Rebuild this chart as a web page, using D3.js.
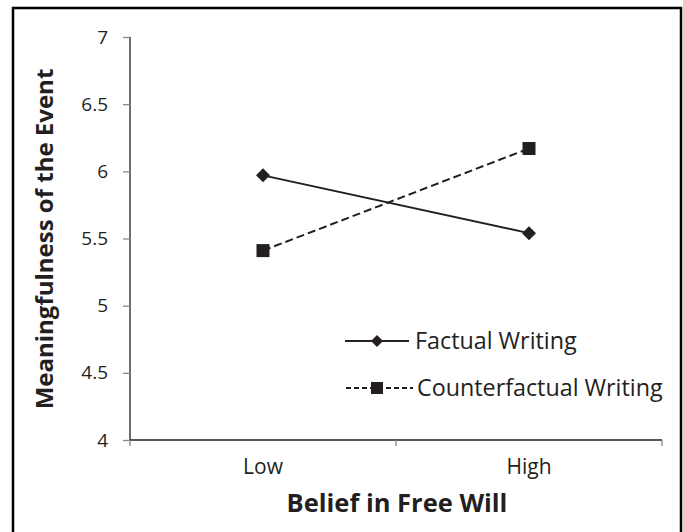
<!DOCTYPE html>
<html><head><meta charset="utf-8">
<script src="https://cdn.jsdelivr.net/npm/d3@7"></script>
<style>html,body{margin:0;padding:0;background:#fff;}svg{display:block;}</style>
</head><body>
<svg id="c" width="683" height="532"></svg>
<script>
const categories = ["Low", "High"];
const factual = [5.97, 5.54];
const counterfactual = [5.41, 6.17];
const yTicks = [4, 4.5, 5, 5.5, 6, 6.5, 7];
const seriesNames = ["Factual Writing", "Counterfactual Writing"];

const FONT = "'Open Sans', Lato, sans-serif";
const ink = "#231f20";
const svg = d3.select("#c");

// frame (no bottom edge visible)
svg.append("path").attr("d", "M13,540 L13,8 L681,8 L681,540")
  .attr("fill", "none").attr("stroke", "#000").attr("stroke-width", 2.5);

const x0 = 130, x1 = 662, yTop = 37, yBot = 440;
const xb = d3.scaleBand().domain(categories).range([x0, x1]);
const y = d3.scaleLinear().domain([4, 7]).range([yBot, yTop]);
const xc = c => xb(c) + xb.bandwidth() / 2;

// y axis
const ya = svg.append("g").attr("transform", `translate(${x0},0)`)
  .call(d3.axisLeft(y).tickValues(yTicks).tickSize(7).tickPadding(15).tickFormat(d => d3.format("~g")(d)));
ya.select(".domain").attr("stroke", ink).attr("stroke-width", 1.3).attr("d", `M0,${yTop}V${yBot}`);
ya.selectAll(".tick line").attr("stroke", "#888").attr("stroke-width", 1.3);
ya.selectAll(".tick text").attr("font-family", FONT).attr("font-size", 19).attr("fill", ink);

// x axis
const xa = svg.append("g").attr("transform", `translate(0,${yBot})`);
xa.append("line").attr("x1", x0).attr("x2", x1).attr("y1", 0).attr("y2", 0)
  .attr("stroke", ink).attr("stroke-width", 1.3);
const bounds = [x0, ...categories.map(c => xb(c) + xb.bandwidth())];
xa.selectAll("line.tk").data(bounds).enter().append("line").attr("class", "tk")
  .attr("x1", d => d).attr("x2", d => d).attr("y1", 0).attr("y2", 6)
  .attr("stroke", "#888").attr("stroke-width", 1.3);
xa.selectAll("text.cl").data(categories).enter().append("text").attr("class", "cl")
  .attr("x", d => xc(d)).attr("y", 34).attr("text-anchor", "middle")
  .attr("font-family", FONT).attr("font-size", 21).attr("fill", ink).text(d => d);

// titles
svg.append("text").attr("x", 397).attr("y", 512).attr("text-anchor", "middle")
  .attr("font-family", FONT).attr("font-weight", "bold").attr("font-size", 25.5).attr("fill", ink)
  .text("Belief in Free Will");
svg.append("text").attr("transform", "translate(53,239) rotate(-90)").attr("text-anchor", "middle")
  .attr("font-family", FONT).attr("font-weight", "bold").attr("font-size", 24).attr("fill", ink)
  .text("Meaningfulness of the Event");

// lines
const line = d3.line().x((d, i) => xc(categories[i])).y(d => y(d));
svg.append("path").datum(factual).attr("d", line).attr("fill", "none")
  .attr("stroke", ink).attr("stroke-width", 2);
svg.append("path").datum(counterfactual).attr("d", line).attr("fill", "none")
  .attr("stroke", ink).attr("stroke-width", 2).attr("stroke-dasharray", "8,4");

const diamond = (cx, cy, r) => `M${cx},${cy - r}L${cx + r},${cy}L${cx},${cy + r}L${cx - r},${cy}Z`;
svg.selectAll("path.dm").data(factual).enter().append("path").attr("class", "dm")
  .attr("d", (d, i) => diamond(xc(categories[i]), y(d), 7)).attr("fill", ink);
svg.selectAll("rect.sq").data(counterfactual).enter().append("rect").attr("class", "sq")
  .attr("x", (d, i) => xc(categories[i]) - 6.5).attr("y", d => y(d) - 6.5)
  .attr("width", 13).attr("height", 13).attr("fill", ink);

// legend
const lg = svg.append("g");
const ly = [341, 388];
lg.append("line").attr("x1", 345).attr("x2", 409).attr("y1", ly[0]).attr("y2", ly[0])
  .attr("stroke", ink).attr("stroke-width", 2);
lg.append("path").attr("d", diamond(377, ly[0], 6)).attr("fill", ink);
lg.append("line").attr("x1", 346).attr("x2", 413).attr("y1", ly[1]).attr("y2", ly[1])
  .attr("stroke", ink).attr("stroke-width", 2).attr("stroke-dasharray", "5,3");
lg.append("rect").attr("x", 371).attr("y", ly[1] - 6).attr("width", 12).attr("height", 12).attr("fill", ink);
lg.selectAll("text").data(seriesNames).enter().append("text")
  .attr("x", (d, i) => i === 0 ? 415 : 417).attr("y", (d, i) => ly[i] + 8)
  .attr("font-family", FONT).attr("font-size", 23.3).attr("fill", ink).text(d => d);
</script>
</body></html>
